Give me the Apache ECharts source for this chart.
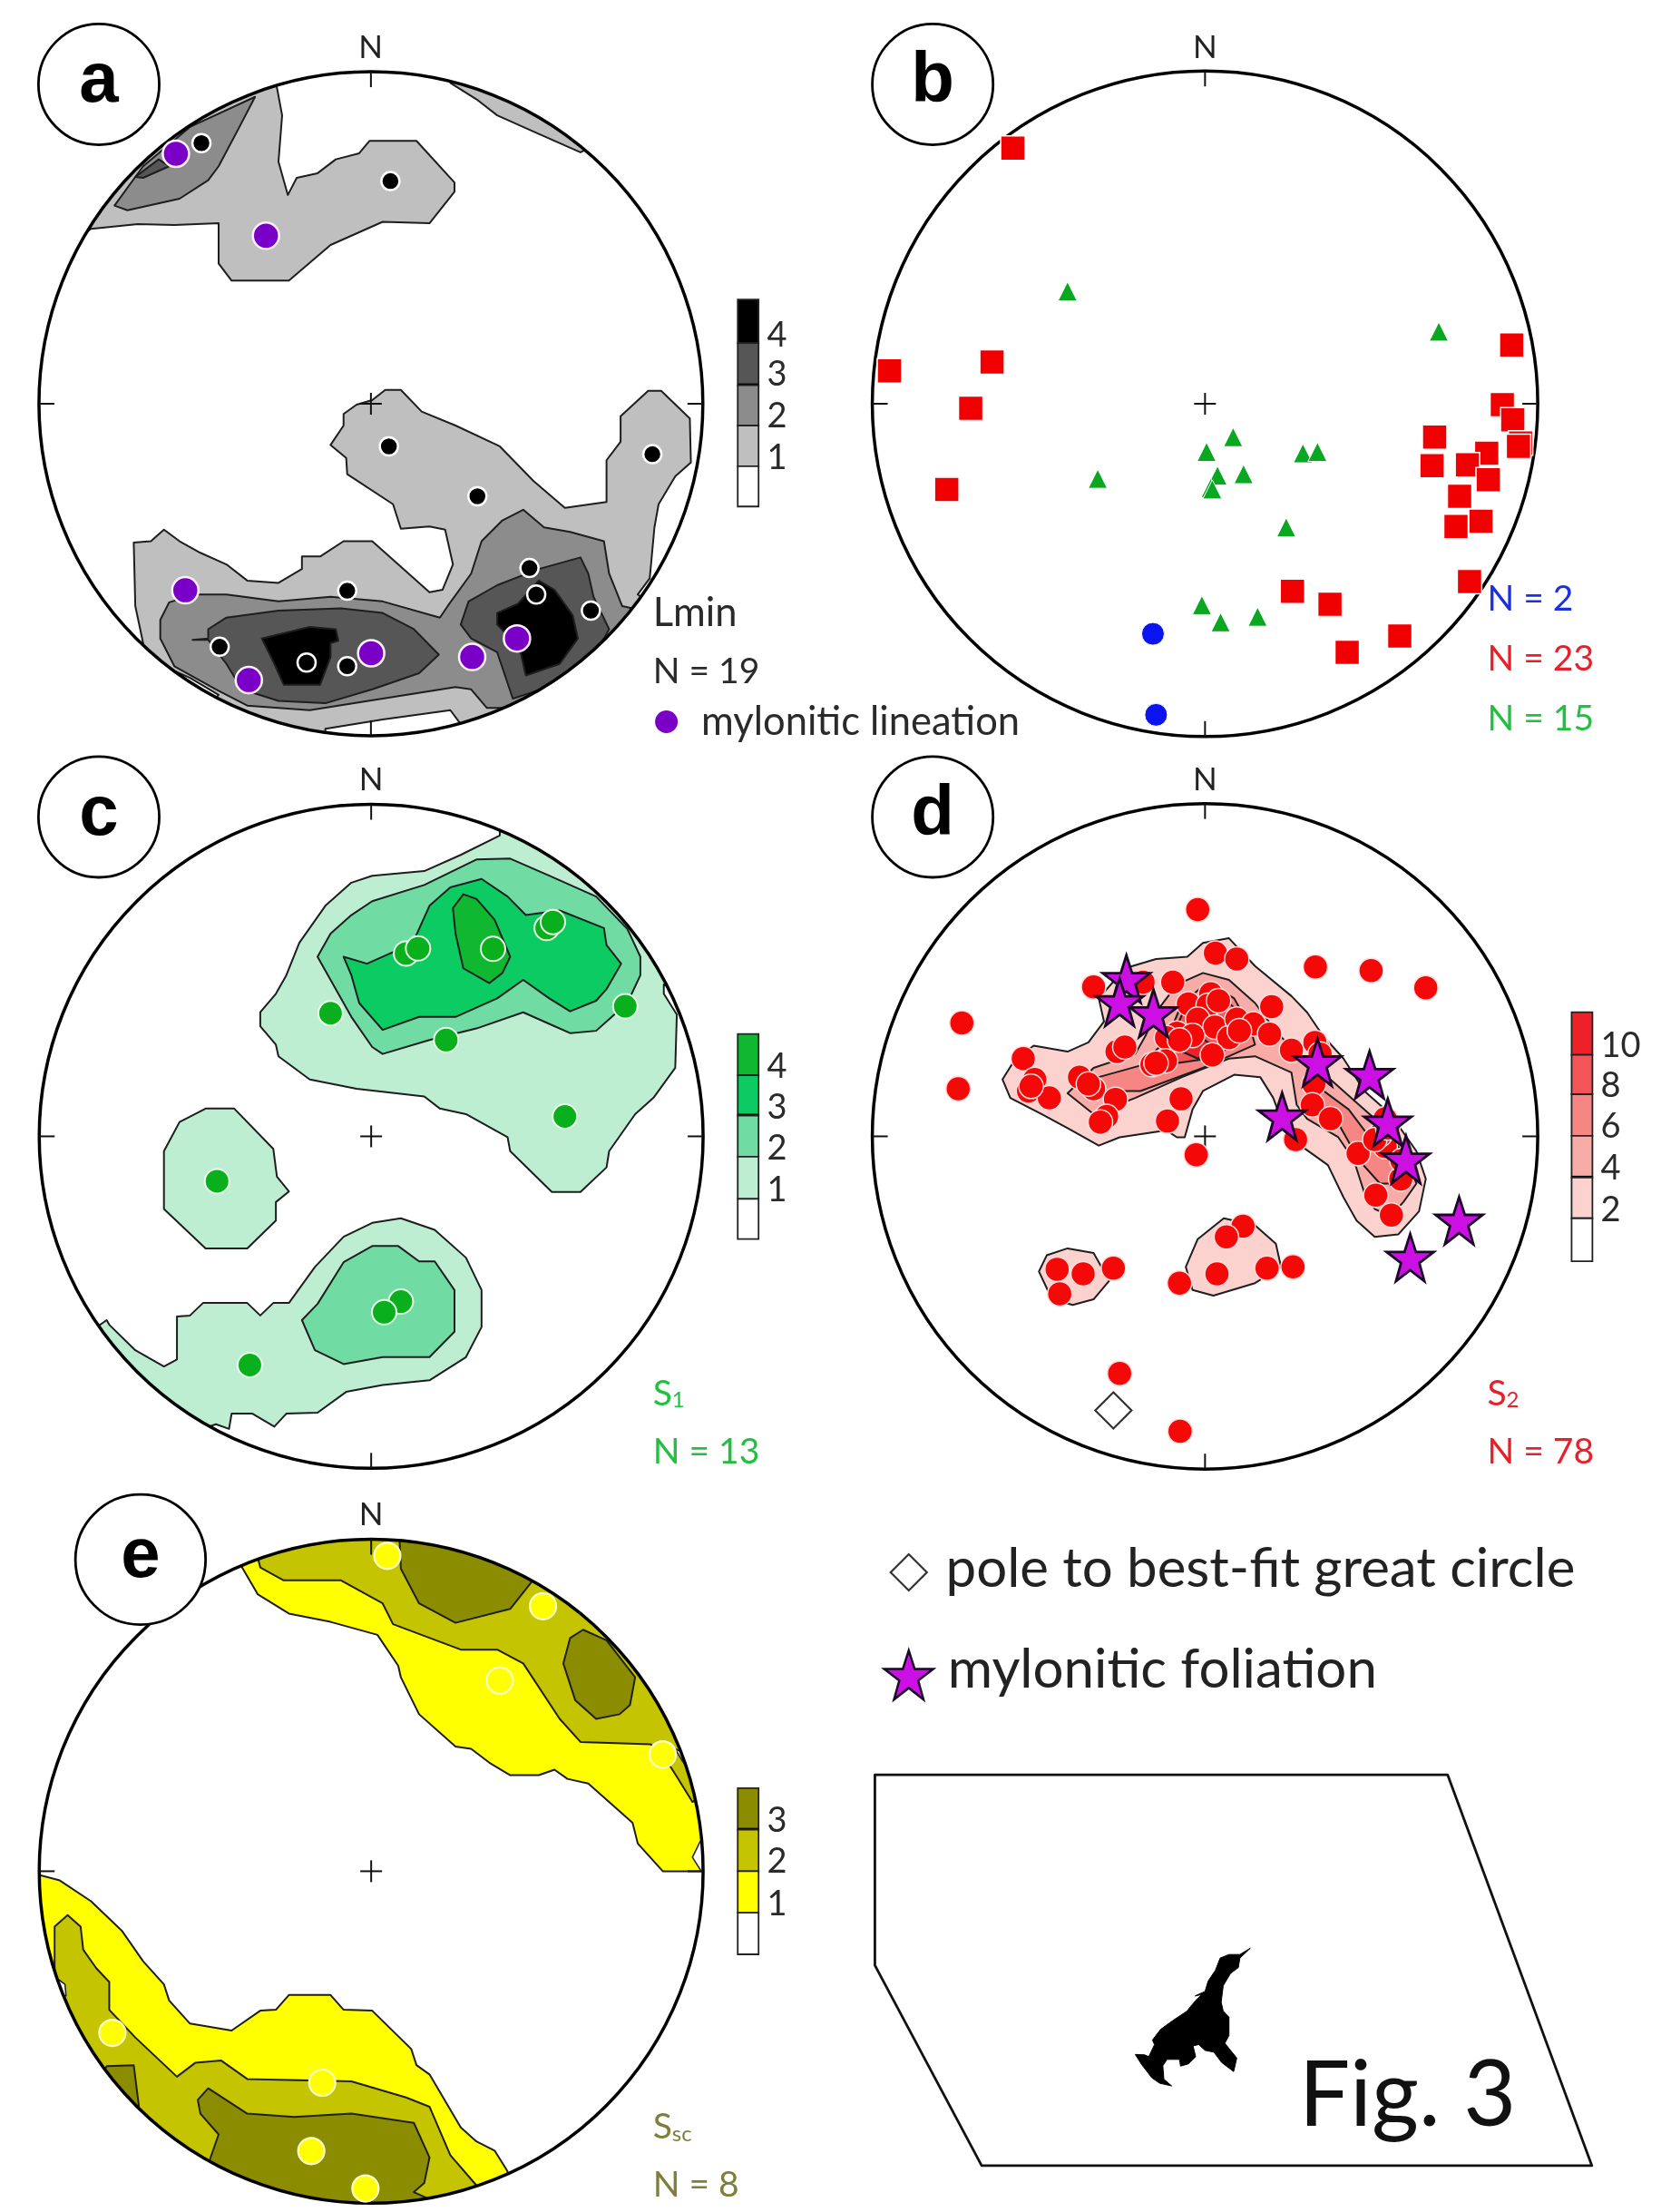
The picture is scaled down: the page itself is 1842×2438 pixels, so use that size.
<!DOCTYPE html>
<html><head><meta charset="utf-8">
<style>html,body{margin:0;padding:0;background:#fff}#c{width:1842px;height:2438px}</style>
<script src="https://cdn.jsdelivr.net/npm/echarts@6/dist/echarts.min.js"></script>
</head><body><div id="c"></div>
<script>
// ---------- panel a: Lmin ----------
const aLevel1=[
[[120,470],[140,455],[230,445],[300,447],[385,443],[385,530],[410,567],[520,567],[600,490],[700,440],[790,443],[838,375],[838,355],[765,265],[675,265],[655,292],[610,305],[575,335],[535,345],[518,382],[500,310],[507,210],[497,150],[480,100],[250,150],[100,350]],
[[830,140],[880,175],[920,210],[1000,250],[1080,290],[1150,250],[950,100]],
[[625,855],[650,835],[680,825],[705,803],[735,803],[775,850],[840,880],[925,925],[990,1000],[1050,1058],[1130,1045],[1130,955],[1157,915],[1157,860],[1210,805],[1235,805],[1290,865],[1292,960],[1262,990],[1230,1050],[1222,1100],[1213,1210],[1190,1245],[1300,1330],[900,1620],[450,1620],[150,1380],[240,1350],[225,1270],[222,1133],[255,1130],[280,1105],[310,1130],[350,1155],[400,1180],[440,1215],[500,1220],[545,1190],[545,1163],[580,1163],[625,1130],[680,1130],[790,1240],[815,1235],[835,1180],[820,1105],[790,1098],[735,1103],[720,1050],[632,985],[630,950],[600,922],[625,880]]];
const aWhite=[[[590,1535],[700,1515],[830,1495],[850,1525],[700,1600],[590,1600]],[[290,1405],[330,1425],[385,1462],[370,1480],[280,1420]]];
const aLevel2=[
[[185,405],[240,320],[330,235],[455,170],[425,235],[385,320],[365,350],[310,390],[210,415]],
[[273,1300],[290,1262],[340,1245],[400,1245],[500,1260],[600,1250],[700,1260],[810,1295],[825,1270],[870,1200],[890,1130],[930,1085],[970,1062],[1010,1100],[1060,1110],[1125,1130],[1135,1200],[1160,1270],[1180,1275],[1220,1320],[950,1530],[930,1490],[900,1490],[870,1450],[840,1445],[700,1470],[560,1495],[440,1485],[380,1450],[300,1400],[273,1340]]];
const aLevel3=[
[[225,343],[270,305],[290,320],[240,345]],
[[365,1320],[400,1295],[500,1280],[620,1275],[700,1285],[760,1320],[808,1375],[770,1415],[680,1450],[590,1480],[500,1475],[430,1450],[400,1395],[365,1343],[335,1343],[365,1340]],
[[850,1310],[865,1260],[920,1225],[1000,1190],[1080,1165],[1095,1200],[1105,1250],[1135,1320],[1125,1340],[1060,1430],[950,1470],[935,1420],[920,1370],[870,1340]]];
const aLevel4=[
[[468,1340],[560,1315],[610,1320],[615,1345],[600,1350],[600,1380],[580,1440],[510,1440],[490,1390]],
[[920,1285],[960,1265],[1000,1215],[1030,1235],[1065,1290],[1075,1340],[1040,1395],[975,1420],[965,1370],[950,1345],[920,1310]]];
const aLineations=[[352,270],[715,352],[712,925],[882,1033],[1218,942],[632,1237],[982,1188],[995,1245],[1100,1280],[387,1358],[554,1392],[632,1400]];
const aMylonitic=[[303,293],[476,470],[321,1236],[443,1430],[678,1372],[872,1380],[958,1340]];
const aLegendDot=[[1245,1520]];
// ---------- panel b ----------
const bSquares=[[325,281],[88,762],[285,743],[244,843],[198,1018],[1283,706],[1265,835],[1285,868],[1300,918],[1296,925],[1135,905],[1130,967],[1235,940],[1198,965],[1238,997],[1183,1033],[1224,1087],[1176,1098],[1202,1217],[862,1238],[934,1266],[1068,1335],[967,1370]];
const bTriangles=[[430,590],[1143,677],[748,905],[697,937],[882,940],[910,937],[718,988],[768,985],[705,1015],[708,1018],[488,995],[850,1100],[688,1268],[724,1305],[795,1293]];
const bCircles=[[594,1330],[600,1505]];
// ---------- panel c: S1 ----------
const cLevel1=[
[[925,178],[850,220],[780,255],[680,265],[640,280],[590,330],[540,410],[515,480],[495,520],[465,560],[465,590],[495,630],[500,655],[560,705],[650,725],[780,742],[810,768],[860,780],[940,830],[945,860],[1025,948],[1080,948],[1130,895],[1135,860],[1185,780],[1220,745],[1262,680],[1265,565],[1240,520],[1240,500],[1340,560],[1300,300],[1050,120],[925,150]],
[[280,860],[310,797],[360,768],[415,768],[490,855],[497,915],[520,947],[495,970],[495,1010],[440,1070],[360,1070],[280,985]],
[[175,1235],[225,1290],[280,1325],[305,1310],[305,1217],[330,1215],[355,1188],[440,1188],[465,1215],[490,1188],[520,1188],[570,1110],[625,1045],[680,1015],[735,1005],[800,1030],[860,1090],[890,1160],[890,1240],[860,1305],[790,1355],[700,1365],[630,1380],[575,1425],[515,1427],[492,1455],[450,1427],[410,1427],[405,1460],[380,1450],[300,1480],[100,1280],[170,1225]]];
const cLevel2=[
[[575,440],[600,390],[640,350],[680,320],[780,285],[880,230],[945,228],[1020,265],[1110,310],[1170,380],[1195,440],[1195,480],[1170,540],[1140,570],[1110,600],[1060,605],[1020,585],[970,560],[880,595],[790,620],[700,650],[680,635],[640,570],[600,490]],
[[545,1225],[575,1190],[625,1100],[680,1065],[730,1065],[770,1098],[800,1098],[838,1160],[838,1250],[790,1305],[700,1305],[625,1320],[570,1290]]];
const cLevel3=[[[625,440],[670,455],[720,430],[760,405],[790,330],[830,290],[890,272],[940,310],[975,350],[1040,340],[1125,378],[1130,415],[1158,455],[1130,510],[1110,535],[1060,558],[1020,530],[970,490],[920,530],[840,570],[770,570],[700,598],[655,540],[640,480]]];
const cLevel4=[[[835,335],[855,305],[880,315],[915,360],[945,440],[930,475],[905,497],[855,465],[840,390]]];
const cPoles=[[600,562],[745,433],[768,422],[912,423],[1015,378],[1027,365],[822,620],[1166,547],[1050,785],[382,925],[735,1185],[703,1208],[445,1322]];
// ---------- panel d: S2 ----------
const dLevel1=[
[[305,705],[330,660],[365,632],[430,645],[470,625],[500,580],[490,530],[540,465],[600,445],[660,440],[690,410],[740,400],[790,460],[860,525],[890,560],[920,610],[960,660],[1000,730],[1050,780],[1100,860],[1118,920],[1105,990],[1065,1040],[1020,1045],[985,1010],[960,960],[930,890],[880,850],[850,820],[825,745],[800,700],[750,695],[690,730],[670,770],[655,830],[640,830],[620,815],[530,830],[490,848],[430,810],[380,780],[320,745]],
[[375,1120],[390,1085],[430,1070],[480,1080],[510,1140],[480,1180],[440,1192],[400,1180]],
[[657,1110],[680,1050],[730,1005],[790,1020],[830,1060],[840,1110],[790,1145],[710,1172],[670,1160]]];
const dLevel2=[[[430,735],[480,680],[560,650],[580,610],[600,560],[640,500],[690,475],[740,490],[790,540],[830,600],[870,650],[910,680],[980,750],[1020,790],[1080,870],[1100,930],[1075,970],[1050,1000],[1020,985],[1000,950],[980,880],[950,830],[890,790],[870,760],[860,690],[790,655],[740,660],[650,700],[560,745],[480,780]]];
const dLevel3=[[[490,700],[570,675],[620,620],[650,540],[700,495],[750,530],[780,590],[790,630],[690,680],[570,730],[500,730]],[[910,720],[970,770],[1010,830],[1060,880],[1080,930],[1030,930],[990,880],[950,800],[900,750]]];
const dLevel4=[[[620,640],[660,540],[710,510],[760,560],[770,620],[700,660],[640,670]]];
const dLevel5=[[[640,640],[680,610],[720,640],[680,660]]];
const dPoles=[[680,338],[714,432],[755,445],[906,462],[1013,470],[1118,507],[227,583],[220,725],[345,660],[480,505],[632,495],[575,495],[662,542],[705,520],[700,545],[640,605],[620,615],[680,575],[713,592],[740,615],[755,575],[787,585],[822,548],[818,607],[860,642],[533,638],[525,645],[592,673],[618,665],[708,652],[910,635],[903,715],[453,700],[367,705],[355,730],[395,745],[480,725],[522,748],[505,785],[493,797],[648,747],[622,795],[900,760],[935,790],[868,835],[677,868],[988,865],[1040,850],[1030,825],[1070,920],[1022,955],[1052,998],[767,1022],[735,1045],[410,1115],[460,1125],[518,1113],[415,1168],[645,1145],[717,1125],[813,1113],[863,1110],[530,1340],[646,1465],[720,535],[670,610],[645,620],[760,600],[600,670],[540,635],[470,715],[360,720],[905,625],[1020,835],[1040,790],[915,650],[1045,810],[1072,880]];
const dStars=[[543,488],[530,538],[595,562],[910,668],[1010,695],[842,785],[1045,798],[1080,878],[1182,1010],[1088,1090]];
const dDiamond=[[518,1420]];
// ---------- panel e: Ssc ----------
const eLevel1=[
[[430,172],[460,230],[520,272],[600,290],[690,318],[730,385],[735,410],[770,490],[840,560],[870,565],[905,595],[945,622],[1000,622],[1030,610],[1055,630],[1095,640],[1180,725],[1190,770],[1238,830],[1310,830],[1340,830],[1340,500],[1100,150],[680,80],[430,140]],
[[40,838],[80,850],[140,895],[200,960],[240,1025],[280,1075],[290,1110],[330,1160],[410,1175],[465,1132],[495,1130],[520,1098],[600,1098],[625,1130],[680,1132],[755,1215],[765,1250],[790,1270],[850,1385],[880,1415],[915,1435],[940,1480],[940,1600],[300,1600],[0,1000],[10,838]]];
const eLevel2=[
[[460,150],[465,172],[510,200],[620,200],[700,250],[720,295],[850,350],[920,350],[970,380],[1040,500],[1080,550],[1215,555],[1245,590],[1262,620],[1295,680],[1340,650],[1300,400],[1000,120],[680,90]],
[[70,950],[95,925],[120,950],[125,1000],[150,1040],[175,1070],[175,1130],[225,1190],[305,1275],[340,1245],[390,1240],[440,1280],[640,1285],[745,1320],[790,1340],[830,1445],[880,1510],[850,1600],[300,1600],[30,1150],[70,1050]]];
const eLevel3=[
[[732,100],[735,175],[770,250],[840,292],[945,262],[985,205],[1000,160],[850,90]],
[[1047,380],[1060,325],[1085,307],[1130,330],[1185,410],[1175,470],[1155,490],[1110,500],[1070,460]],
[[345,1325],[365,1300],[440,1355],[530,1362],[640,1355],[760,1375],[790,1450],[780,1505],[760,1525],[800,1545],[780,1600],[300,1600],[368,1455],[385,1400],[350,1355]],
[[170,1252],[222,1250],[232,1340],[150,1300]]];
const eWhite=[[[1295,800],[1310,765],[1340,830],[1312,830]],[[1262,565],[1276,592],[1290,612],[1310,590]],[[72,1060],[90,1075],[92,1100],[50,1090]]];
const ePoles=[[709,147],[1008,256],[925,417],[1238,577],[181,1180],[584,1288],[563,1436],[667,1517]];
// ---------- legend panel / map ----------
const fFrame=[[[60,597],[1160,597],[1437,1465],[265,1465],[60,1020]]];
const fIsland=[[[781,982],[761,996],[740,996],[723,1004],[714,1031],[700,1055],[694,1078],[675,1088],[688,1085],[676,1098],[659,1122],[633,1142],[609,1162],[593,1186],[597,1196],[586,1223],[578,1219],[560,1218],[572,1240],[592,1270],[607,1282],[630,1288],[615,1273],[613,1243],[621,1229],[645,1229],[647,1244],[662,1239],[676,1223],[671,1199],[682,1196],[694,1209],[711,1213],[726,1236],[749,1256],[755,1226],[743,1209],[732,1193],[740,1176],[740,1135],[729,1122],[725,1102],[729,1065],[743,1038],[758,1025],[761,1004]]];
const fStar=[[125,375]];
const fDiamond=[[125,147]];
// ---------- stereonet geometry (reading units) ----------
const nets={a:[677.5,833,637.5,715],b:[694,833,639,715],c:[678,828,637.5,717],d:[694,828,639,717],e:[678,830,637.5,718]};
const bubbles={a:[155,143,116,'a'],b:[171,143,116,'b'],c:[155,138,116,'c'],d:[171,138,116,'d'],e:[235,155,125,'e']};
// colour-scale tick labels and band edges
const scales={
 a:{x:[1382,1422],heavy:1,bands:[[608,702],[702,793],[793,880],[880,968],[968,1055]],labels:['4','3','2','1'],labelY:[685,770,860,950]},
 c:{x:[1382,1422],heavy:1,bands:[[607,696],[696,783],[783,872],[872,963],[963,1050]],labels:['4','3','2','1'],labelY:[678,765,855,945]},
 d:{x:[1398,1438],heavy:3,bands:[[560,652],[652,737],[737,827],[827,917],[917,1005],[1005,1098]],labels:['10','8','6','4','2'],labelY:[633,718,808,898,988]},
 e:{x:[1382,1422],heavy:0,bands:[[650,740],[740,830],[830,920],[920,1010]],labels:['3','2','1'],labelY:[720,810,902]}
};
const greys=['#bfbfbf','#8c8c8c','#565656','#000000'];
const greens=['#bdeed2','#70dca4','#0ccb62','#10b832'];
const reds=['#fbd2ce','#f8aca8','#f58684','#f25458','#ee2028'];
const yellows=['#ffff00','#c4c400','#8c8c00'];

const grids=[
 {key:'a',left:20,top:20,width:900,height:800},
 {key:'b',left:930,top:20,width:900,height:800},
 {key:'c',left:20,top:830,width:900,height:800},
 {key:'d',left:930,top:830,width:900,height:800},
 {key:'e',left:20,top:1640,width:900,height:798},
 {key:'f',left:930,top:1660,width:900,height:778}
];
const idx={};grids.forEach((g,i)=>idx[g.key]=i);
const series=[];
const ax=k=>({coordinateSystem:'cartesian2d',xAxisIndex:idx[k],yAxisIndex:idx[k],clip:false,silent:true,animation:false});

function addPolys(k,polys,fill,z,opts){
  opts=opts||{};
  const net=nets[k];
  series.push(Object.assign(ax(k),{type:'custom',z:z,
    data:polys.map((p,i)=>[p[0][0],p[0][1],i]),
    renderItem:(params,api)=>{
      const pts=polys[api.value(2)].map(p=>api.coord(p));
      const el={type:'polygon',shape:{points:pts},style:{fill:fill,stroke:opts.stroke||'#1e1e1e',lineWidth:opts.lw||2,lineJoin:'round'}};
      if(net&&!opts.noclip){const c=api.coord([net[0],net[1]]);const r=api.size([net[2],0])[0];el.clipPath={type:'circle',shape:{cx:c[0],cy:c[1],r:r}};}
      return el;
    }}));
}
function addNet(k){
  const n=nets[k];
  series.push(Object.assign(ax(k),{type:'custom',z:5,data:[[n[0],n[1]]],
    renderItem:(params,api)=>{
      const c=api.coord([n[0],n[1]]);const r=api.size([n[2],0])[0];
      const t=17,cr=12;
      const line=(x1,y1,x2,y2,w)=>({type:'line',shape:{x1,y1,x2,y2},style:{stroke:'#111',lineWidth:w||2}});
      return {type:'group',children:[
        {type:'circle',shape:{cx:c[0],cy:c[1],r:r},style:{fill:'none',stroke:'#000',lineWidth:3.5}},
        line(c[0],c[1]-r,c[0],c[1]-r+t),line(c[0],c[1]+r,c[0],c[1]+r-t),
        line(c[0]-r,c[1],c[0]-r+t,c[1]),line(c[0]+r,c[1],c[0]+r-t,c[1]),
        line(c[0]-cr,c[1],c[0]+cr,c[1]),line(c[0],c[1]-cr,c[0],c[1]+cr)]};
    }}));
  const b=bubbles[k];
  series.push(Object.assign(ax(k),{type:'custom',z:30,data:[[b[0],b[1]]],
    renderItem:(params,api)=>{
      const c=api.coord([b[0],b[1]]);const r=api.size([b[2],0])[0];
      return {type:'group',children:[
        {type:'circle',shape:{cx:c[0],cy:c[1],r:r},style:{fill:'#fff',stroke:'#000',lineWidth:2.8}},
        {type:'text',x:c[0],y:c[1]-2,style:{text:b[3],fill:'#000',font:'bold 78px "Liberation Sans"',align:'center',verticalAlign:'middle'}}]};
    }}));
}
function addPoints(k,pts,symbol,size,color,border,bw,z){
  series.push(Object.assign(ax(k),{type:'scatter',z:z||10,data:pts,symbol:symbol,symbolSize:size,
    itemStyle:{color:color,borderColor:border,borderWidth:bw,opacity:1}}));
}
function addTexts(k,items,color,size,font,z){
  series.push(Object.assign(ax(k),{type:'custom',z:z||40,data:items.map((t,i)=>[t[0],t[1],i]),
    renderItem:(params,api)=>{
      const t=items[api.value(2)];const c=api.coord([t[0],t[1]]);
      return {type:'text',x:c[0],y:c[1],style:{text:t[2],fill:color,font:size+'px '+(font||'Lato'),align:t[3]||'left',verticalAlign:'middle',
        rich:{m:{font:size+'px Lato',fill:color,padding:[0,0,0,0]},s:{font:Math.round(size*0.62)+'px Lato',fill:color,padding:[14,0,0,0]}}}};
    }}));
}
function addScale(k,colors){
  const s=scales[k];
  series.push(Object.assign(ax(k),{type:'custom',z:8,data:s.bands.map((b,i)=>[s.x[0],b[0],i]),
    renderItem:(params,api)=>{
      const i=api.value(2),b=s.bands[i];
      const p0=api.coord([s.x[0],b[0]]),p1=api.coord([s.x[1],b[1]]);
      const fill=colors[i]||'#fff';
      const children=[{type:'rect',shape:{x:p0[0],y:p0[1],width:p1[0]-p0[0],height:p1[1]-p0[1]},style:{fill:fill,stroke:'#222',lineWidth:1.8}}];
      if(i===s.heavy)children.push({type:'line',shape:{x1:p0[0],y1:p1[1],x2:p1[0],y2:p1[1]},style:{stroke:'#000',lineWidth:4}});
      return {type:'group',children};
    }}));
  addTexts(k,s.labels.map((l,i)=>[s.x[1]+16,s.labelY[i],l]),'#2a2a2a',38);
}
const star='path://M50,0 L61.8,35.1 L98.9,35.1 L68.9,57 L79.4,92.7 L50,71 L20.6,92.7 L31.1,57 L1.1,35.1 L38.2,35.1 Z';

// panel a
addPolys('a',aLevel1,greys[0],1);addPolys('a',aWhite,'#ffffff',1.5);addPolys('a',aLevel2,greys[1],2);addPolys('a',aLevel3,greys[2],3);addPolys('a',aLevel4,greys[3],4);
addNet('a');
addPoints('a',aLineations,'circle',20,'#000','#fff',2.5);
addPoints('a',aMylonitic,'circle',29,'#7a00c8','#fff0ff',2.5,11);
addPoints('a',aLegendDot,'circle',25,'#7a00c8','#7a00c8',0,11);
addScale('a',[greys[3],greys[2],greys[1],greys[0]]);
addTexts('a',[[1219,1285,'Lmin'],[1312,1520,'mylonitic lineation']],'#2a2a2a',43.5);
addTexts('a',[[1219,1413,'N = 19']],'#2a2a2a',39);
addTexts('a',[[677,65,'N','center']],'#222',35);
// panel b
addNet('b');
addPoints('b',bTriangles,'triangle',21,'#0aa820','#fff',1,10);
addPoints('b',bSquares,'rect',27,'#f00000','#fff',1.5,11);
addPoints('b',bCircles,'circle',25,'#0a14f0','#fff',1,11);
addTexts('b',[[694,65,'N','center']],'#222',35);
addTexts('b',[[1236,1255,'N = 2']],'#1c30e0',39);
addTexts('b',[[1236,1385,'N = 23']],'#e8202a',39);
addTexts('b',[[1236,1513,'N = 15']],'#22c040',39);
// panel c
addPolys('c',cLevel1,greens[0],1);addPolys('c',cLevel2,greens[1],2);addPolys('c',cLevel3,greens[2],3);addPolys('c',cLevel4,greens[3],4);
addNet('c');
addPoints('c',cPoles,'circle',27,'#0aaf1e','#e8ffe8',2);
addScale('c',[greens[3],greens[2],greens[1],greens[0]]);
addTexts('c',[[678,58,'N','center']],'#222',35);
addTexts('c',[[1219,1385,'{m|S}{s|1}'],[1219,1510,'N = 13']],'#22c040',39);
// panel d
addPolys('d',dLevel1,reds[0],1);addPolys('d',dLevel2,reds[1],2);addPolys('d',dLevel3,reds[2],3);addPolys('d',dLevel4,reds[3],4);addPolys('d',dLevel5,reds[4],4.5);
addNet('d');
addPoints('d',dPoles,'circle',27,'#f50808','#ffdcdc',1.5);
addPoints('d',dStars,star,52,'#cc10e4','#1a0826',2.8,12);
addPoints('d',dDiamond,'diamond',40,'#ffffff','#333',2.2,12);
addScale('d',[reds[4],reds[3],reds[2],reds[1],reds[0]]);
addTexts('d',[[694,58,'N','center']],'#222',35);
addTexts('d',[[1236,1385,'{m|S}{s|2}'],[1236,1510,'N = 78']],'#e8202a',39);
// panel e
addPolys('e',eLevel1,yellows[0],1);addPolys('e',eLevel2,yellows[1],2);addPolys('e',eWhite,'#ffffff',2.5,{lw:1.5});addPolys('e',eLevel3,yellows[2],3);
addNet('e');
addPoints('e',ePoles,'circle',29,'#ffff00','#fffbd0',2.2);
addScale('e',[yellows[2],yellows[1],yellows[0]]);
addTexts('e',[[678,58,'N','center']],'#222',35);
addTexts('e',[[1219,1385,'{m|S}{s|sc}'],[1219,1510,'N = 8']],'#7f7f3c',39);
// panel f
addPolys('f',fFrame,'#ffffff',1,{stroke:'#111',lw:2.8,noclip:true});
addPolys('f',fIsland,'#000000',2,{stroke:'#000',lw:1,noclip:true});
addPoints('f',fDiamond,'diamond',40,'#ffffff','#333',2.2,12);
addPoints('f',fStar,star,54,'#cc10e4','#1a0826',2.5,12);
addTexts('f',[[196,140,'pole to best-fit great circle'],[200,365,'mylonitic foliation']],'#222',60);
addTexts('f',[[874,1312,'Fig. 3']],'#111',100);

const chart=echarts.init(document.getElementById('c'),null,{renderer:'canvas'});
chart.setOption({
  animation:false,backgroundColor:'#fff',tooltip:{show:false},
  grid:grids.map(g=>({left:g.left,top:g.top,width:g.width,height:g.height,containLabel:false})),
  xAxis:grids.map((g,i)=>({type:'value',gridIndex:i,min:0,max:1568,show:false})),
  yAxis:grids.map((g,i)=>({type:'value',gridIndex:i,min:0,max:1568,inverse:true,show:false})),
  series:series
});
</script></body></html>
